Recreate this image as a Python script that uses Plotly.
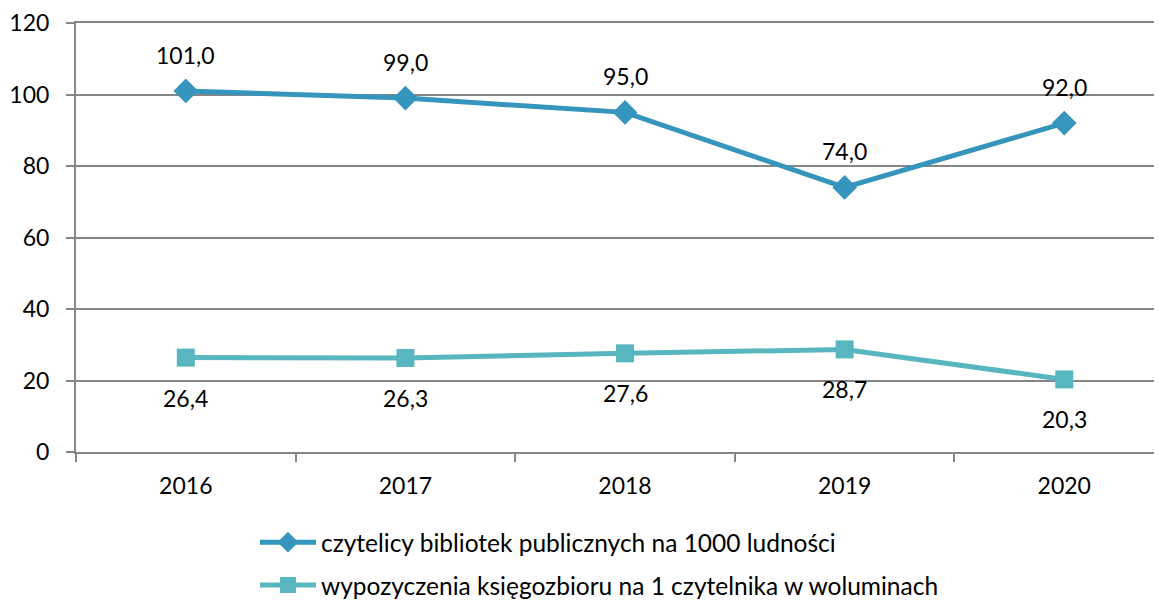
import plotly.graph_objects as go

years = ["2016", "2017", "2018", "2019", "2020"]
readers = [101.0, 99.0, 95.0, 74.0, 92.0]
loans = [26.4, 26.3, 27.6, 28.7, 20.3]
name_readers = "czytelicy bibliotek publicznych na 1000 ludności"
name_loans = "wypozyczenia księgozbioru na 1 czytelnika w woluminach"
y_ticks = [0, 20, 40, 60, 80, 100, 120]

FONT = "Lato"
c1 = "#3695BD"
c2 = "#58B6C0"

fig = go.Figure()
fig.add_trace(go.Scatter(x=years, y=readers, name=name_readers, mode="lines+markers",
                         legendgroup="a",
                         line=dict(color=c1, width=5),
                         marker=dict(symbol="diamond", size=19, color=c1)))
fig.add_trace(go.Scatter(x=years, y=loans, name=name_loans, mode="lines+markers",
                         legendgroup="b",
                         line=dict(color=c2, width=5),
                         marker=dict(symbol="square", size=18, color=c2)))

def fmt(v):
    return f"{v:.1f}".replace(".", ",")

for i, v in enumerate(readers):
    fig.add_annotation(x=i, y=v, xref="x", yref="y", text=fmt(v), showarrow=False, yshift=36,
                       font=dict(family=FONT, size=23, color="#000"))
for i, v in enumerate(loans):
    fig.add_annotation(x=i, y=v, xref="x", yref="y", text=fmt(v), showarrow=False, yshift=-40,
                       font=dict(family=FONT, size=23, color="#000"))

fig.update_layout(
    width=1154, height=604,
    margin=dict(l=68, r=0, t=15, b=160),
    paper_bgcolor="white", plot_bgcolor="white",
    font=dict(family=FONT, size=23, color="#000"),
    showlegend=True,
    legend=dict(orientation="v", x=0.482, xanchor="center", y=-0.158, yanchor="top",
                font=dict(family=FONT, size=24.5, color="#000"),
                itemwidth=56, tracegroupgap=8, bgcolor="rgba(0,0,0,0)"),
    xaxis=dict(type="category", range=[-0.5, 4.445], showgrid=False, automargin=False,
               showline=True, linecolor="#868686", linewidth=2, mirror=True,
               ticks="outside", ticklen=8, tickcolor="#868686", tickwidth=2,
               tickson="boundaries", ticklabelstandoff=12,
               tickfont=dict(family=FONT, size=23, color="#000")),
    yaxis=dict(range=[0, 120], tickvals=y_ticks, showgrid=True, automargin=False,
               gridcolor="#868686", gridwidth=2,
               showline=True, linecolor="#868686", linewidth=2,
               ticks="outside", ticklen=8, tickcolor="#868686", tickwidth=2,
               zeroline=False, ticklabelstandoff=12,
               tickfont=dict(family=FONT, size=23, color="#000")),
)

fig.write_html("out.html")
